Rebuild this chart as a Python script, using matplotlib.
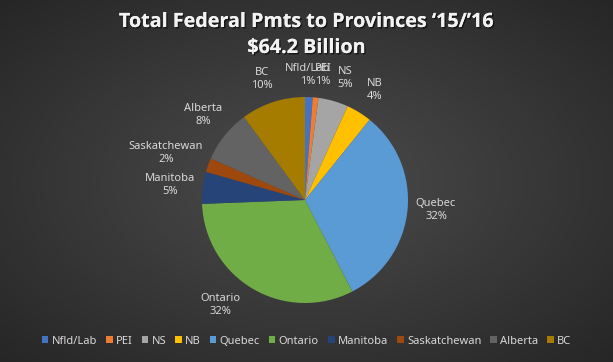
import numpy as np
import matplotlib
matplotlib.use("Agg")
import matplotlib.pyplot as plt
import matplotlib.patheffects as pe

# ---- data ----
provinces = ["Nfld/Lab", "PEI", "NS", "NB", "Quebec", "Ontario",
             "Manitoba", "Saskatchewan", "Alberta", "BC"]
shares = [1.2, 0.9, 4.7, 4.0, 31.6, 32.0, 5.0, 2.2, 8.3, 10.1]
pct_labels = ["1%", "1%", "5%", "4%", "32%", "32%", "5%", "2%", "8%", "10%"]
title_lines = ["Total Federal Pmts to Provinces \u201815/\u201916", "$64.2 Billion"]

# ---- style ----
colors = ["#4472C4", "#ED7D31", "#A5A5A5", "#FFC000", "#5B9BD5", "#70AD47",
          "#264478", "#9E480E", "#636363", "#A57C00"]
txt_col = "#D9D9D9"
FONT = ["Noto Sans", "DejaVu Sans"]
TFONT = ["Open Sans", "DejaVu Sans"]

W, H, DPI = 613, 362, 100
cx, cy, R = 305, 200, 103  # pie centre & radius in pixels (from top)
# label block centres (pixels from top-left)
label_pos = [(308, 75), (323, 75), (345, 78), (375, 90), (436, 210),
             (220, 305), (170, 185), (166, 153), (203, 115), (262, 79)]

fig = plt.figure(figsize=(W / DPI, H / DPI), dpi=DPI)

# background radial gradient
bg = fig.add_axes([0, 0, 1, 1])
yy, xx = np.mgrid[0:H, 0:W]
d = np.sqrt(((xx - W / 2) / (W / 2)) ** 2 + ((yy - H / 2) / (H / 2)) ** 2) / np.sqrt(2)
c0, c1 = np.array([0x4C, 0x4C, 0x4C]) / 255, np.array([0x26, 0x26, 0x26]) / 255
img = c0[None, None, :] * (1 - d[..., None]) + c1[None, None, :] * d[..., None]
bg.imshow(np.clip(img, 0, 1), extent=[0, W, H, 0], aspect="auto")
bg.axis("off")

ax = fig.add_axes([0, 0, 1, 1])
wedges, _ = ax.pie(shares, colors=colors, startangle=90, counterclock=False,
                   radius=1.0, wedgeprops=dict(linewidth=0))
ax.set_xlim(-cx / R, (W - cx) / R)
ax.set_ylim(-(H - cy) / R, cy / R)
ax.set_aspect("equal")
ax.axis("off")
ax.patch.set_alpha(0)

for name, pct, (px, py) in zip(provinces, pct_labels, label_pos):
    x = (px - cx) / R
    y = (cy - py) / R
    ax.text(x, y, f"{name}\n{pct}", ha="center", va="center", color=txt_col,
            fontsize=8, family=FONT, linespacing=1.35)

shadow = [pe.withSimplePatchShadow(offset=(1, -1), shadow_rgbFace="black", alpha=0.6), pe.Normal()]
for i, line in enumerate(title_lines):
    fig.text(0.5, 1 - (22 + 26 * i) / H, line, ha="center", va="center", color="#F2F2F2",
             fontsize=14.2, fontweight="bold", family=TFONT, path_effects=shadow)

leg = fig.legend(wedges, provinces, loc="center", bbox_to_anchor=(0.5, 1 - 341 / H),
                 ncol=10, frameon=False, handlelength=0.6, handleheight=0.6,
                 handletextpad=0.3, columnspacing=0.8,
                 prop=dict(family=FONT, size=8))
for t in leg.get_texts():
    t.set_color(txt_col)

fig.savefig("out.png", dpi=DPI)
